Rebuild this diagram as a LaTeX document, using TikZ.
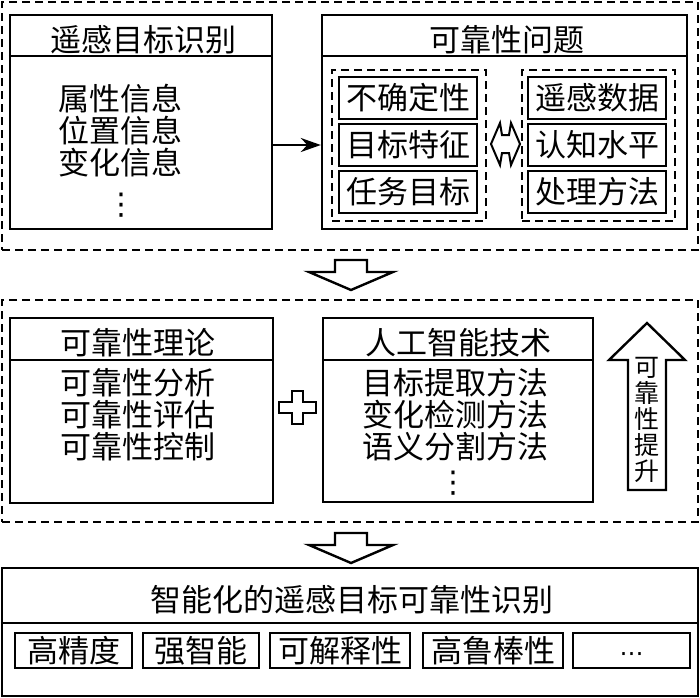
\documentclass[tikz,border=0pt]{standalone}
\usepackage{fontspec}
\setmainfont{Noto Sans CJK SC}
\newfontfamily\dejavu{DejaVu Sans}
\usetikzlibrary{arrows.meta}
\begin{document}
\begin{tikzpicture}[x=1pt,y=-1pt,
  box/.style={draw, line width=2.4pt, rectangle, inner sep=0pt},
  dbox/.style={draw, line width=2.4pt, dash pattern=on 8pt off 5pt, rectangle, inner sep=0pt},
  hline/.style={line width=2.4pt},
  txt/.style={inner sep=0pt, font=\fontsize{31}{32}\selectfont, align=left},
  ctxt/.style={inner sep=0pt, font=\fontsize{31}{32}\selectfont, align=center},
  vdotsnode/.style={inner sep=0pt, font=\dejavu\fontsize{30}{30}\selectfont},
  hollow/.style={draw, line width=2.4pt, line join=miter, fill=white},
  conn/.style={line width=2.4pt, -{Stealth[length=20pt,width=14pt]}}]
\useasboundingbox (0,0) rectangle (700,697);

% ---------- group 1 ----------
\node[dbox, minimum width=696pt, minimum height=248pt] (g1) at (350,126) {};
\node[box, minimum width=262pt, minimum height=214pt] (b1) at (141,122) {};
\draw[hline] ([yshift=-42pt]b1.north west) -- ([yshift=-42pt]b1.north east);
\node[ctxt] (b1t) at (143,40) {遥感目标识别};
\node[txt] (b1b) at (120,131) {属性信息\\位置信息\\变化信息};
\node[vdotsnode] (b1d) at (121,205) {⋮};

\node[box, minimum width=365pt, minimum height=214pt] (b2) at (504.5,122) {};
\draw[hline] ([yshift=-42pt]b2.north west) -- ([yshift=-42pt]b2.north east);
\node[ctxt] (b2t) at (507,40) {可靠性问题};

\node[dbox, minimum width=154pt, minimum height=151pt] (gL) at (409,145.5) {};
\node[dbox, minimum width=153pt, minimum height=151pt] (gR) at (598.5,145.5) {};

\node[box, ctxt, minimum width=138pt, minimum height=42pt] (l1) at (408,98) {不确定性};
\node[box, ctxt, minimum width=138pt, minimum height=42pt] (l2) at (408,145) {目标特征};
\node[box, ctxt, minimum width=138pt, minimum height=42pt] (l3) at (408,192) {任务目标};
\node[box, ctxt, minimum width=138pt, minimum height=42pt] (r1) at (597,98) {遥感数据};
\node[box, ctxt, minimum width=138pt, minimum height=42pt] (r2) at (597,145) {认知水平};
\node[box, ctxt, minimum width=138pt, minimum height=42pt] (r3) at (597,192) {处理方法};

\draw[hollow, line width=2pt] (491,144) -- (500,123) -- (502,135) -- (509,135) -- (511,123) -- (520,144)
  -- (511,165) -- (509,153) -- (502,153) -- (500,165) -- cycle;

\draw[conn] ([yshift=-23pt]b1.east) -- ([yshift=-23pt]b2.west);

% ---------- down arrow 1 ----------
\draw[hollow] (335,260) -- (367,260) -- (367,272) -- (393,272) -- (351,290) -- (309,272) -- (335,272) -- cycle;

% ---------- group 2 ----------
\node[dbox, minimum width=696pt, minimum height=222pt] (g2) at (350,411) {};
\node[box, minimum width=263pt, minimum height=185pt] (b3) at (141.5,410.5) {};
\draw[hline] ([yshift=-43pt]b3.north west) -- ([yshift=-43pt]b3.north east);
\node[ctxt] (b3t) at (138,343) {可靠性理论};
\node[txt] (b3b) at (138,415) {可靠性分析\\可靠性评估\\可靠性控制};

\draw[hollow] (292,391) -- (303,391) -- (303,402) -- (316,402) -- (316,413) -- (303,413) -- (303,424)
  -- (292,424) -- (292,413) -- (279,413) -- (279,402) -- (292,402) -- cycle;

\node[box, minimum width=270pt, minimum height=184pt] (b4) at (458,410) {};
\draw[hline] ([yshift=-43pt]b4.north west) -- ([yshift=-43pt]b4.north east);
\node[ctxt] (b4t) at (458,343) {人工智能技术};
\node[txt] (b4b) at (455,415) {目标提取方法\\变化检测方法\\语义分割方法};
\node[vdotsnode] (b4d) at (453,483) {⋮};

\draw[hollow] (647,323) -- (685,360) -- (666,360) -- (666,490) -- (628,490) -- (628,360) -- (609,360) -- cycle;
\node[ctxt, font=\fontsize{25}{26}\selectfont] (up) at (647,420) {可\\靠\\性\\提\\升};

% ---------- down arrow 2 ----------
\draw[hollow] (335,533) -- (367,533) -- (367,545) -- (393,545) -- (351,563) -- (309,545) -- (335,545) -- cycle;

% ---------- bottom ----------
\node[box, minimum width=696pt, minimum height=128pt] (b5) at (350,632) {};
\draw[hline] ([yshift=-56pt]b5.north west) -- ([yshift=-56pt]b5.north east);
\node[ctxt] (b5t) at (352,600) {智能化的遥感目标可靠性识别};
\node[box, ctxt, minimum width=117pt, minimum height=35pt] (p1) at (73.5,650.5) {高精度};
\node[box, ctxt, minimum width=116pt, minimum height=35pt] (p2) at (201,650.5) {强智能};
\node[box, ctxt, minimum width=140pt, minimum height=35pt] (p3) at (340,650.5) {可解释性};
\node[box, ctxt, minimum width=140pt, minimum height=35pt] (p4) at (493,650.5) {高鲁棒性};
\node[box, minimum width=117pt, minimum height=35pt] (p5) at (631.5,650.5) {};
\node[inner sep=0pt, font=\dejavu\fontsize{24}{24}\selectfont] (p5t) at (631.5,657) {⋯};
\end{tikzpicture}
\end{document}
